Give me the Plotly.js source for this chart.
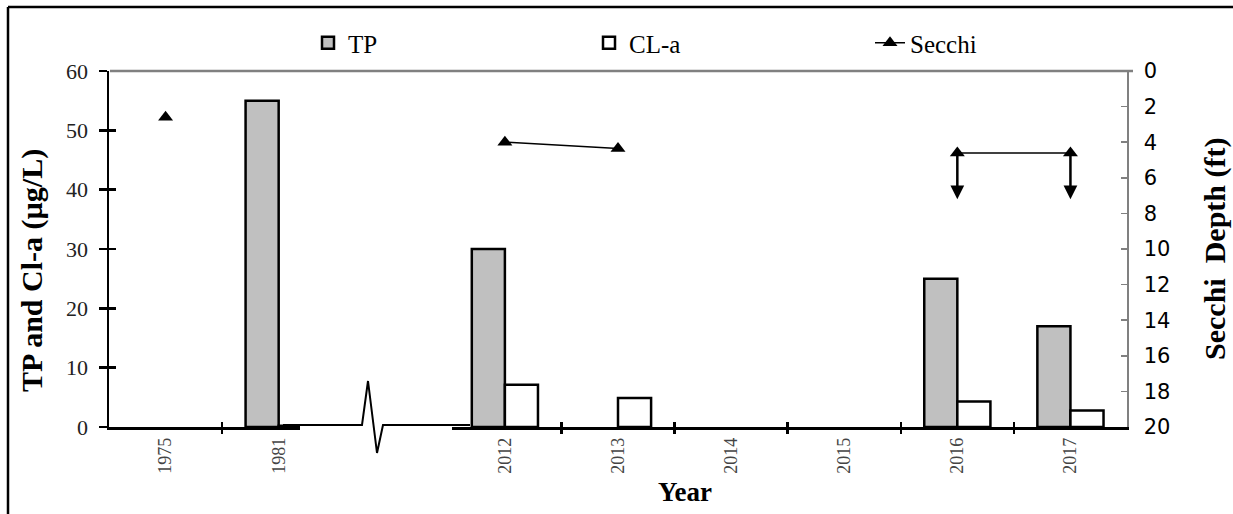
<!DOCTYPE html>
<html>
<head>
<meta charset="utf-8">
<script src="https://cdn.plot.ly/plotly-3.0.1.min.js"></script>
<style>
  html, body { margin: 0; padding: 0; background: #fff; }
  #chart { width: 1233px; height: 514px; }
</style>
</head>
<body>
<div id="chart"></div>
<script>
// ---- data ----
var years      = ['1975', '1981', ' ', '2012', '2013', '2014', '2015', '2016', '2017'];
var tickLabels = ['1975', '1981', '2012', '2013', '2014', '2015', '2016', '2017'];
var tp         = [null, 55, null, 30, null, null, null, 25, 17];
var cla        = [null, 0.2, null, 7.1, 4.9, null, null, 4.3, 2.8];
var secchi     = [2.6, null, null, 4.0, 4.35, null, null, 4.6, 4.6];
var secchiMore = [null, null, null, null, null, null, null, 7.2, 7.2];
var boundaryTicks = [0.5, 3.5, 4.5, 5.5, 6.5, 7.5];

// ---- geometry helpers (pixel -> paper) ----
var M = {l: 109, r: 106, t: 71, b: 87, autoexpand: false};
var PW = 1233 - M.l - M.r, PH = 514 - M.t - M.b;
function fx(px) { return (px - M.l) / PW; }
function fy(py) { return (514 - M.b - py) / PH; }

var serif = 'Liberation Serif, Times New Roman, serif';

var traces = [
  {type: 'bar', name: 'TP', x: years, y: tp, xaxis: 'x', yaxis: 'y',
   marker: {color: '#c0c0c0', line: {color: '#000', width: 2.5}}, hoverinfo: 'x+y'},
  {type: 'bar', name: 'CL-a', x: years, y: cla, xaxis: 'x', yaxis: 'y',
   marker: {color: '#ffffff', line: {color: '#000', width: 2.5}}, hoverinfo: 'x+y'},
  {type: 'scatter', mode: 'lines+markers', name: 'Secchi', x: years, y: secchi,
   xaxis: 'x', yaxis: 'y2', connectgaps: false,
   line: {color: '#000', width: 1.5},
   marker: {symbol: 'triangle-up', size: 13, color: '#000'}},
  {type: 'scatter', x: [], y: [], xaxis: 'x2', yaxis: 'y', showlegend: false, hoverinfo: 'skip'},
  {type: 'scatter', x: [], y: [], xaxis: 'x3', yaxis: 'y', showlegend: false, hoverinfo: 'skip'},
  {type: 'scatter', x: [], y: [], xaxis: 'x', yaxis: 'y3', showlegend: false, hoverinfo: 'skip'}
];

var annotations = [];
for (var i = 0; i < years.length; i++) {
  if (secchiMore[i] !== null && secchi[i] !== null) {
    annotations.push({
      x: i, y: secchiMore[i], xref: 'x', yref: 'y2',
      ax: i, ay: secchi[i], axref: 'x', ayref: 'y2',
      text: '', showarrow: true, arrowhead: 2, arrowsize: 1.1,
      arrowwidth: 2.5, arrowcolor: '#000'
    });
  }
}
annotations.push(
  {text: 'TP and Cl-a (\u00b5g/L)', xref: 'paper', yref: 'paper', x: fx(32), y: fy(271),
   textangle: -90, showarrow: false, xanchor: 'center', yanchor: 'middle',
   font: {family: serif, size: 30, color: '#000', weight: 'bold'}},
  {text: 'Secchi\u00a0 Depth (ft)', xref: 'paper', yref: 'paper', x: fx(1215), y: fy(249),
   textangle: -90, showarrow: false, xanchor: 'center', yanchor: 'middle',
   font: {family: serif, size: 30, color: '#000', weight: 'bold'}},
  {text: 'Year', xref: 'paper', yref: 'paper', x: fx(685), y: fy(492),
   showarrow: false, xanchor: 'center', yanchor: 'middle',
   font: {family: serif, size: 27, color: '#000', weight: 'bold'}}
);

var shapes = [
  // outer frame (left and top)
  {type: 'line', xref: 'paper', yref: 'paper', x0: fx(8), x1: fx(8), y0: fy(7), y1: fy(520),
   line: {color: '#000', width: 2.5}, layer: 'above'},
  {type: 'line', xref: 'paper', yref: 'paper', x0: fx(8), x1: fx(1240), y0: fy(7), y1: fy(7),
   line: {color: '#000', width: 2.5}, layer: 'above'},
  // grey top border of plot area
  {type: 'line', xref: 'paper', yref: 'paper', x0: fx(110), x1: fx(1133), y0: 1, y1: 1,
   line: {color: '#808080', width: 2.5}, layer: 'above'},
  // axis break: hide axis line, then draw break mark
  {type: 'rect', xref: 'paper', yref: 'paper', x0: fx(300), x1: fx(452), y0: fy(423.5), y1: fy(433),
   fillcolor: '#fff', line: {width: 0}, layer: 'above'},
  {type: 'path', xref: 'paper', yref: 'paper', layer: 'above',
   path: 'M' + fx(283) + ',' + fy(425) + ' L' + fx(362) + ',' + fy(425) +
         ' L' + fx(368) + ',' + fy(381) + ' L' + fx(377) + ',' + fy(453) +
         ' L' + fx(383) + ',' + fy(425) + ' L' + fx(470) + ',' + fy(425),
   line: {color: '#000', width: 2}}
];

var layout = {
  width: 1233, height: 514,
  margin: M,
  paper_bgcolor: '#fff', plot_bgcolor: '#fff',
  barmode: 'group', bargap: 0.415, bargroupgap: 0,
  showlegend: true,
  legend: {orientation: 'h', x: fx(308), y: fy(43), xanchor: 'left', yanchor: 'middle',
           font: {family: serif, size: 25, color: '#000'},
           entrywidth: 236, entrywidthmode: 'pixels', traceorder: 'normal',
           bgcolor: 'rgba(0,0,0,0)'},
  xaxis: {type: 'category', categoryorder: 'array', categoryarray: years,
          range: [-0.5, years.length - 0.5], tickvals: tickLabels, ticktext: tickLabels,
          ticks: '', tickangle: -90, ticklabelstandoff: 1,
          tickfont: {family: serif, size: 18, color: '#444'},
          showline: true, linecolor: '#000', linewidth: 2.5,
          showgrid: false, zeroline: false, anchor: 'y', fixedrange: true},
  xaxis2: {overlaying: 'x', type: 'linear', range: [-0.5, years.length - 0.5],
           tickvals: boundaryTicks, ticks: 'outside', ticklen: 6, tickwidth: 2.5, tickcolor: '#000',
           showticklabels: false, showline: false, showgrid: false, zeroline: false, anchor: 'y'},
  xaxis3: {overlaying: 'x', type: 'linear', range: [-0.5, years.length - 0.5],
           tickvals: boundaryTicks, ticks: 'inside', ticklen: 5, tickwidth: 2.5, tickcolor: '#000',
           showticklabels: false, showline: false, showgrid: false, zeroline: false, anchor: 'y'},
  yaxis: {range: [0, 60], dtick: 10, ticks: 'outside', ticklen: 8, tickwidth: 2.5, tickcolor: '#000',
          showline: true, linecolor: '#000', linewidth: 2.5, ticklabelstandoff: 6,
          tickfont: {family: serif, size: 22, color: '#222'},
          showgrid: false, zeroline: false, anchor: 'x'},
  yaxis3: {overlaying: 'y', side: 'left', range: [0, 60], dtick: 10, ticks: 'inside', ticklen: 7,
           tickwidth: 2.5, tickcolor: '#000', showticklabels: false, showline: false,
           showgrid: false, zeroline: false, anchor: 'x'},
  yaxis2: {overlaying: 'y', side: 'right', range: [20, 0], dtick: 2, ticks: 'inside', ticklen: 6,
           tickwidth: 1.5, tickcolor: '#808080', showline: true, linecolor: '#808080', linewidth: 1.5,
           ticklabelstandoff: 11,
           tickfont: {family: 'DejaVu Sans, Arial, sans-serif', size: 21, color: '#000'},
           showgrid: false, zeroline: false, anchor: 'x'},
  annotations: annotations,
  shapes: shapes
};

Plotly.newPlot('chart', traces, layout, {displayModeBar: false, staticPlot: true});
</script>
</body>
</html>
